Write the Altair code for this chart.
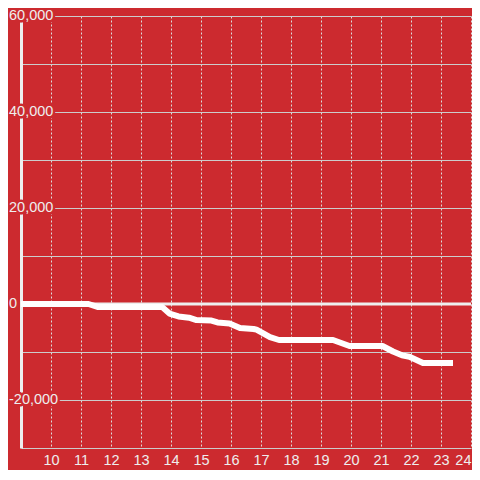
import altair as alt
import pandas as pd

# ---- data ----
hours = [9.0, 11.25, 11.55, 13.7, 13.95, 14.25, 14.6, 14.85, 15.35, 15.55, 15.95,
         16.3, 16.75, 16.85, 17.3, 17.6, 19.4, 19.95, 21.05, 21.4, 21.7, 21.95,
         22.4, 23.4]
values = [0, 0, -600, -600, -2000, -2600, -2850, -3350, -3450, -3850, -4050,
          -5000, -5200, -5350, -6900, -7500, -7500, -8750, -8750, -9900, -10700,
          -11000, -12300, -12300]

x_ticks = list(range(10, 25))
y_grid = [60000, 50000, 40000, 30000, 20000, 10000, 0, -10000, -20000, -30000]
y_label_values = [60000, 40000, 20000, 0, -20000]
y_label_text = ["60,000", "40,000", "20,000", "0", "-20,000"]
zero_line = [0]

BG = "#cc2a2f"
FG = "#eeeeee"
FONT = "Liberation Sans"
FS = 14.5

df = pd.DataFrame({"hour": hours, "value": values})
df_labels = pd.DataFrame({"value": y_label_values, "text": y_label_text})
df_zero = pd.DataFrame({"value": zero_line})

x_enc = alt.X(
    "hour:Q",
    scale=alt.Scale(domain=[9, 24], nice=False, zero=False),
    axis=alt.Axis(
        values=x_ticks, title=None, grid=True, gridDash=[2, 2],
        gridColor="#dddddd", gridWidth=1, domain=False, ticks=False,
        labelPadding=5, labelFont=FONT, labelFontSize=FS, labelColor=FG,
        labelFlush=True, labelOverlap=False, format="d",
    ),
)
y_enc = alt.Y(
    "value:Q",
    scale=alt.Scale(domain=[-30000, 60000], nice=False, zero=False),
    axis=alt.Axis(
        values=y_grid, title=None, labels=False, ticks=False, domain=True,
        domainColor=FG, domainWidth=3, grid=True, gridColor="#cccccc",
        gridWidth=1,
    ),
)

zero_rule = alt.Chart(df_zero).mark_rule(color=FG, strokeWidth=3).encode(y=y_enc)

line = alt.Chart(df).mark_line(
    color="#ffffff", strokeWidth=6, strokeJoin="round", strokeCap="butt"
).encode(x=x_enc, y=y_enc)

halo = alt.Chart(df_labels).mark_text(
    align="left", baseline="middle", font=FONT, fontSize=FS,
    fill=BG, stroke=BG, strokeWidth=5, strokeJoin="round",
).encode(x=alt.value(-12), y=y_enc, text="text:N")

labels = alt.Chart(df_labels).mark_text(
    align="left", baseline="middle", font=FONT, fontSize=FS, fill=FG,
).encode(x=alt.value(-12), y=y_enc, text="text:N")

chart = alt.layer(zero_rule, line, halo, labels).properties(
    width=450, height=432,
    padding={"left": 13, "top": 8, "right": 1, "bottom": 22},
    autosize="none",
).configure(background=BG).configure_view(stroke=None)

chart.save("out.html", embed_options={"renderer": "svg", "actions": False})
